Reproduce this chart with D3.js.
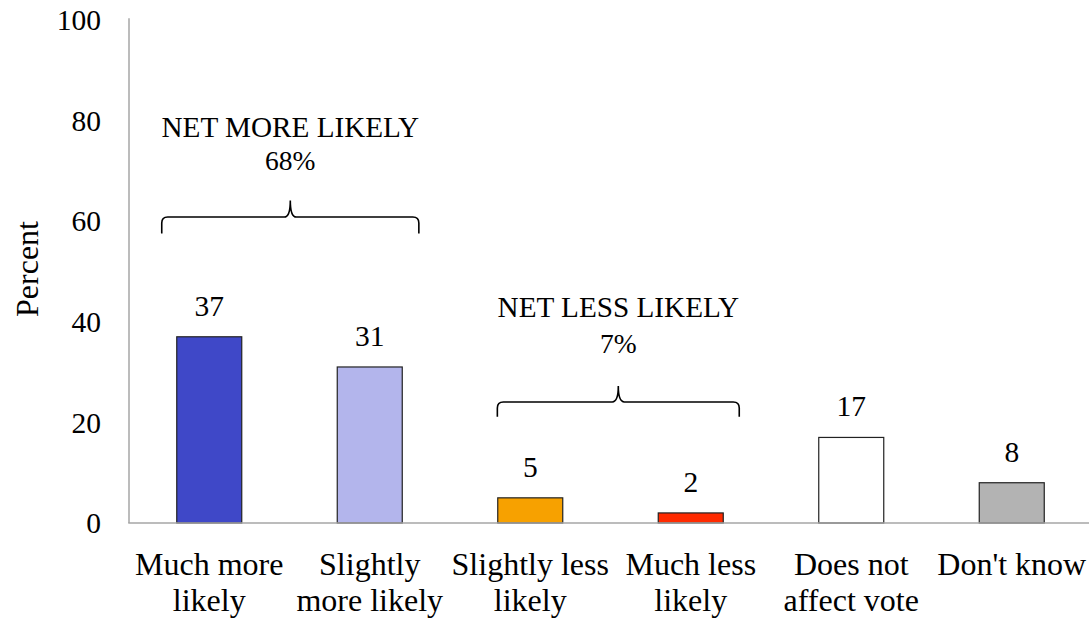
<!DOCTYPE html>
<html>
<head>
<meta charset="utf-8">
<script src="https://cdn.jsdelivr.net/npm/d3@7"></script>
<style>
  html, body { margin: 0; padding: 0; background: #fff; }
  svg { display: block; }
</style>
</head>
<body>
<svg id="chart" width="1089" height="619"></svg>
<script>
// Response categories (two-line labels), values in percent, bar fills
const categories = [
  ["Much more", "likely"],
  ["Slightly", "more likely"],
  ["Slightly less", "likely"],
  ["Much less", "likely"],
  ["Does not", "affect vote"],
  ["Don't know"]
];
const values = [37, 31, 5, 2, 17, 8];
const colors = ["#3f48c8", "#b3b5ec", "#f7a100", "#ff2a00", "#ffffff", "#b3b3b3"];
const yTicks = [0, 20, 40, 60, 80, 100];

// Grouped totals shown above braces
const groups = [
  { label: "NET MORE LIKELY", total: "68%", from: 0, to: 1 },
  { label: "NET LESS LIKELY", total: "7%", from: 2, to: 3 }
];

const FONT = '"Liberation Serif", "Times New Roman", Tinos, serif';

const svg = d3.select("#chart")
  .style("font-family", FONT)
  .attr("fill", "#000");
const keys = categories.map((c, i) => i);

const x = d3.scaleBand()
  .domain(keys)
  .range([129, 1092])
  .paddingInner(0.595)
  .paddingOuter(0.2975);

const y = d3.scaleLinear().domain([0, 100]).range([523, 19.7]);

// Y axis line
svg.append("line")
  .attr("x1", 129).attr("x2", 129)
  .attr("y1", y(100) - 1.5).attr("y2", y(0))
  .attr("stroke", "#a6a6a6").attr("stroke-width", 1.5);

// Y tick labels
svg.append("g").selectAll("text")
  .data(yTicks)
  .join("text")
  .style("font-family", FONT)
  .attr("x", 101)
  .attr("y", d => y(d))
  .attr("dy", "0.35em")
  .attr("text-anchor", "end")
  .attr("font-size", 29.5)
  .text(d => d);

// Y axis title
svg.append("text")
  .style("font-family", FONT)
  .attr("transform", `translate(38,269) rotate(-90)`)
  .attr("text-anchor", "middle")
  .attr("font-size", 32)
  .text("Percent");

// Bars
svg.append("g").selectAll("rect")
  .data(values)
  .join("rect")
  .attr("x", (d, i) => x(i))
  .attr("y", d => y(d))
  .attr("width", x.bandwidth())
  .attr("height", d => y(0) - y(d))
  .attr("fill", (d, i) => colors[i])
  .attr("stroke", "#222")
  .attr("stroke-width", 1.2);

// Baseline drawn over the bar bottoms
svg.append("line")
  .attr("x1", 128.25).attr("x2", 1089)
  .attr("y1", y(0)).attr("y2", y(0))
  .attr("stroke", "#a6a6a6").attr("stroke-width", 1.5);

// Value labels
svg.append("g").selectAll("text")
  .data(values)
  .join("text")
  .style("font-family", FONT)
  .attr("x", (d, i) => x(i) + x.bandwidth() / 2)
  .attr("y", d => y(d) - 21)
  .attr("text-anchor", "middle")
  .attr("font-size", 29.5)
  .text(d => d);

// Category labels
const cat = svg.append("g").selectAll("text")
  .data(categories)
  .join("text")
  .style("font-family", FONT)
  .attr("x", (d, i) => x(i) + x.bandwidth() / 2)
  .attr("y", 575)
  .attr("text-anchor", "middle")
  .attr("font-size", 32);
cat.selectAll("tspan")
  .data(d => d)
  .join("tspan")
  .attr("x", function() { return d3.select(this.parentNode).attr("x"); })
  .attr("dy", (d, j) => j === 0 ? 0 : 36)
  .text(d => d);

// Curly brace path between x1 and x2, horizontal at yMid, legs down to yEnd, tip up to yTip
function bracePath(x1, x2, yMid, yEnd, yTip, xTip) {
  const r = 6;
  return `M${x1},${yEnd} L${x1},${yMid + r} Q${x1},${yMid} ${x1 + r},${yMid}` +
    ` L${xTip - r},${yMid} Q${xTip},${yMid} ${xTip},${yTip}` +
    ` Q${xTip},${yMid} ${xTip + r},${yMid} L${x2 - r},${yMid}` +
    ` Q${x2},${yMid} ${x2},${yMid + r} L${x2},${yEnd}`;
}

const braceLayout = [
  { x1: x(0) - 15, x2: x(1) + x.bandwidth() + 16.6, mid: 60.8, end: 57.5, tip: 64.1, textY: 136.7, totalY: 170 },
  { x1: x(2) - 0.4, x2: x(3) + x.bandwidth() + 16, mid: 24.05, end: 21.1, tip: 27.2, textY: 317.3, totalY: 352.7 }
];

groups.forEach((g, i) => {
  const b = braceLayout[i];
  const xTip = (b.x1 + b.x2) / 2;
  svg.append("path")
    .attr("d", bracePath(b.x1, b.x2, y(b.mid), y(b.end), y(b.tip), xTip))
    .attr("fill", "none")
    .attr("stroke", "#000")
    .attr("stroke-width", 1.6);
  svg.append("text")
    .style("font-family", FONT)
    .attr("x", xTip).attr("y", b.textY)
    .attr("text-anchor", "middle")
    .attr("font-size", 29.2)
    .text(g.label);
  svg.append("text")
    .style("font-family", FONT)
    .attr("x", xTip).attr("y", b.totalY)
    .attr("text-anchor", "middle")
    .attr("font-size", 27.5)
    .text(g.total);
});
</script>
</body>
</html>
